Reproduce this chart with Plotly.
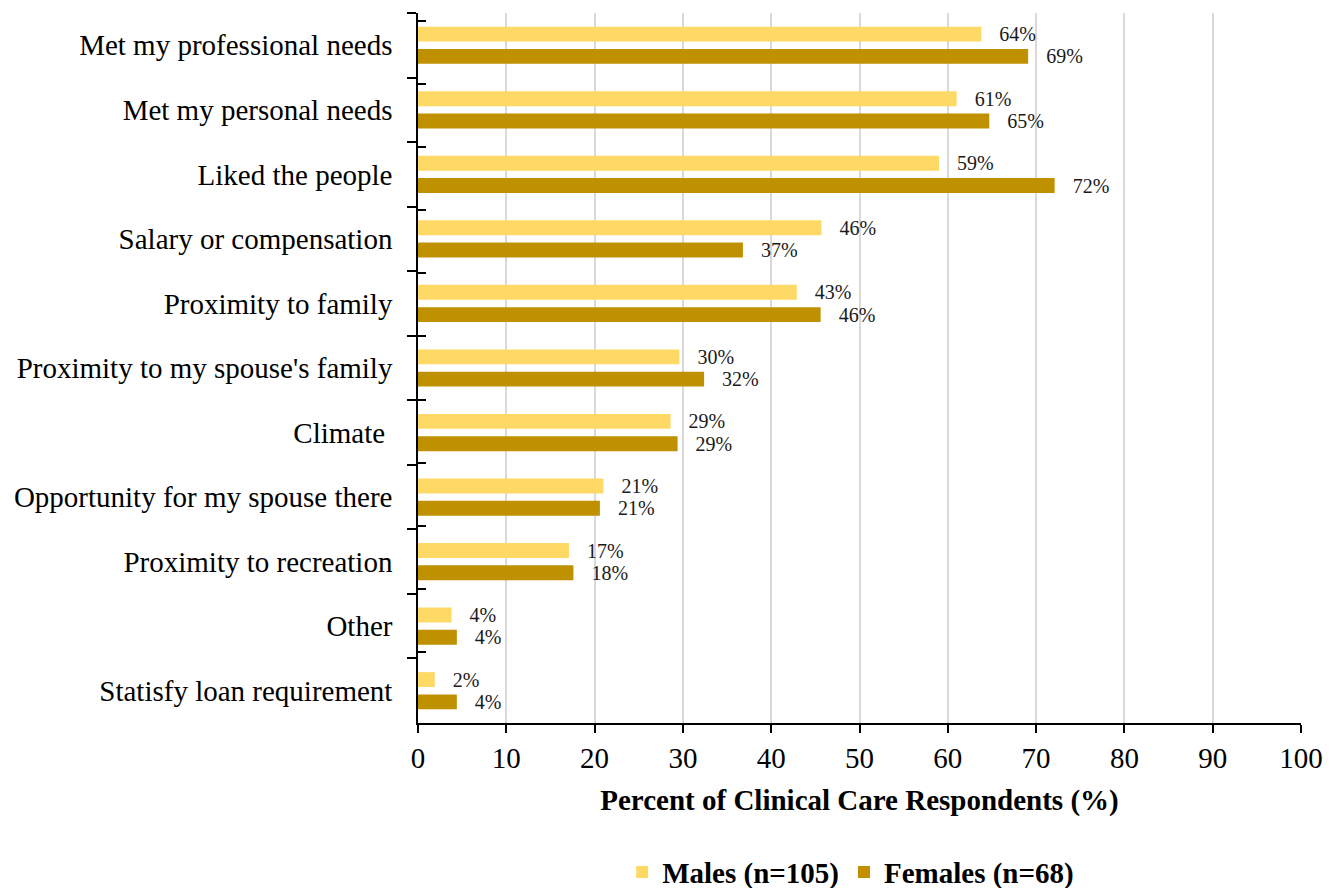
import plotly.graph_objects as go

# Reasons for choosing current practice location, by respondent sex
categories = [
    "Met my professional needs",
    "Met my personal needs",
    "Liked the people",
    "Salary or compensation",
    "Proximity to family",
    "Proximity to my spouse's family",
    "Climate\u00a0",
    "Opportunity for my spouse there",
    "Proximity to recreation",
    "Other",
    "Statisfy loan requirement",
]
males = [63.8, 61.0, 59.0, 45.7, 42.9, 29.6, 28.6, 21.0, 17.1, 3.8, 1.9]
females = [69.1, 64.7, 72.1, 36.8, 45.6, 32.4, 29.4, 20.6, 17.6, 4.4, 4.4]
x_ticks = list(range(0, 101, 10))

SERIF = "Liberation Serif, Times New Roman, serif"
MALE_COLOR = "#FFD966"
FEMALE_COLOR = "#BF9000"
LABEL_PREFIX = "\u00a0\u00a0\u00a0"

fig = go.Figure()
fig.add_trace(go.Bar(
    name="<b>Males (n=105)</b>", y=categories, x=males, orientation="h",
    marker=dict(color=MALE_COLOR, line=dict(width=0)),
    texttemplate=LABEL_PREFIX + "%{x:.0f}%", textposition="outside",
    constraintext="none",
    textfont=dict(family=SERIF, size=20, color="#1a1a1a"),
    cliponaxis=False,
))
fig.add_trace(go.Bar(
    name="<b>Females (n=68)</b>", y=categories, x=females, orientation="h",
    marker=dict(color=FEMALE_COLOR, line=dict(width=0)),
    texttemplate=LABEL_PREFIX + "%{x:.0f}%", textposition="outside",
    constraintext="none",
    textfont=dict(family=SERIF, size=20, color="#1a1a1a"),
    cliponaxis=False,
))
# invisible companion trace so the inner half of the crossing ticks can be drawn
fig.add_trace(go.Scatter(
    y=categories, x=males, yaxis="y2", mode="markers",
    marker=dict(opacity=0), showlegend=False, hoverinfo="skip",
))

fig.update_layout(
    width=1338, height=888,
    margin=dict(l=418, r=37, t=13, b=165, autoexpand=False),
    paper_bgcolor="white", plot_bgcolor="white",
    barmode="group", bargap=0.31, bargroupgap=0.33,
    font=dict(family=SERIF, color="black"),
    xaxis=dict(
        range=[0, 100], tickvals=x_ticks, showgrid=True, automargin=False,
        gridcolor="#d9d9d9", gridwidth=1.5, zeroline=False,
        showline=True, linecolor="black", linewidth=1.5,
        ticks="outside", ticklen=8, tickwidth=1.5, tickcolor="black",
        tickfont=dict(family=SERIF, size=29, color="black"),
        title=dict(text="<b>Percent of Clinical Care Respondents (%)</b>",
                   font=dict(family=SERIF, size=29, color="black"),
                   standoff=17),
    ),
    yaxis=dict(
        type="category", categoryorder="array", categoryarray=categories,
        autorange="reversed", tickson="boundaries", automargin=False,
        showline=True, linecolor="black", linewidth=1.5,
        ticks="outside", ticklen=9, tickwidth=1.5, tickcolor="black",
        tickfont=dict(family=SERIF, size=29, color="black"),
        ticklabelstandoff=18, showgrid=False, zeroline=False,
    ),
    yaxis2=dict(
        type="category", categoryorder="array", categoryarray=categories,
        autorange="reversed", tickson="boundaries", overlaying="y",
        side="left", ticks="inside", ticklen=8, tickwidth=1.5,
        tickcolor="black", showticklabels=False, showgrid=False,
        showline=False, zeroline=False, automargin=False,
    ),
    legend=dict(
        orientation="h", x=0.49, xanchor="center", y=-0.21, yanchor="middle",
        font=dict(family=SERIF, size=29, color="black"),
        itemwidth=30, traceorder="normal",
    ),
    showlegend=True,
)

fig.write_html("out.html")
